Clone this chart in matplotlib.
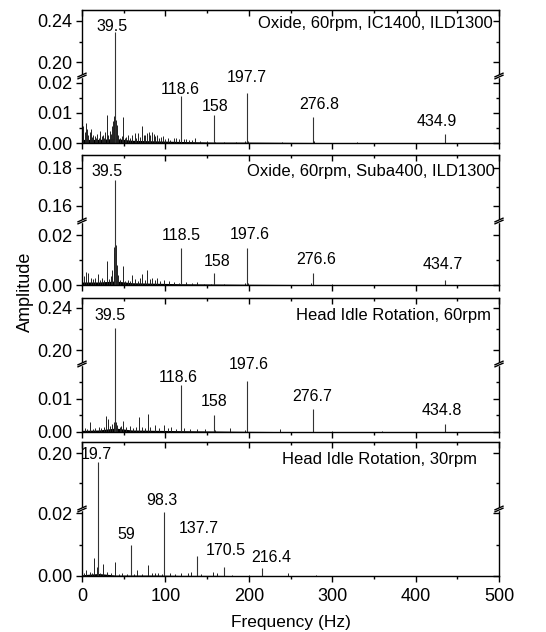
import numpy as np
import matplotlib.pyplot as plt

plt.rcParams['font.family'] = ['Liberation Sans', 'DejaVu Sans']
plt.rcParams['font.size'] = 12

titles = ['Oxide, 60rpm, IC1400, ILD1300', 'Oxide, 60rpm, Suba400, ILD1300',
          'Head Idle Rotation, 60rpm', 'Head Idle Rotation, 30rpm']

# labelled peaks
p1_peak_f = [39.5, 118.6, 158, 197.7, 276.8, 434.9]
p1_peak_a = [0.229, 0.0155, 0.0093, 0.0166, 0.0085, 0.0029]
p1_labels = ['39.5', '118.6', '158', '197.7', '276.8', '434.9']

p2_peak_f = [39.5, 118.5, 158, 197.6, 276.6, 434.7]
p2_peak_a = [0.1734, 0.0150, 0.0047, 0.0148, 0.0047, 0.0020]
p2_labels = ['39.5', '118.5', '158', '197.6', '276.6', '434.7']

p3_peak_f = [39.5, 118.6, 158, 197.6, 276.7, 434.8]
p3_peak_a = [0.2208, 0.0143, 0.0053, 0.0156, 0.0069, 0.0023]
p3_labels = ['39.5', '118.6', '158', '197.6', '276.7', '434.8']

p4_peak_f = [19.7, 59, 98.3, 137.7, 170.5, 216.4]
p4_peak_a = [0.1844, 0.0099, 0.0202, 0.0062, 0.0028, 0.0024]
p4_labels = ['19.7', '59', '98.3', '137.7', '170.5', '216.4']

# smaller spectral lines
p1_small_f = [1.5, 3.0, 4.4, 6.0, 7.5, 9.0, 10.5, 12.0, 13.5, 15.0, 16.8, 18.5, 20.0, 21.6,
              23.5, 25.0, 26.5, 28.0, 29.5, 31.5, 33.5, 35.0, 36.5, 37.5, 38.3, 38.9, 40.1,
              40.7, 41.4, 42.3, 43.5, 45.0, 47.5, 49.5, 51.0, 53.0, 55.5, 58.0, 60.5, 63.0,
              65.0, 67.5, 69.5, 72.0, 74.0, 76.0, 78.3, 80.0, 82.0, 84.0, 86.0, 88.0, 90.0,
              92.5, 95.0, 97.5, 100.0, 103.0, 106.0, 110.0, 113.0, 116.0, 122.0, 125.0,
              128.0, 132.0, 136.0, 142.0, 150.0, 160.0, 170.0, 185.0, 196.0, 199.0, 240.0,
              278.0, 330.0]
p1_small_a = [0.0058, 0.0035, 0.0068, 0.0045, 0.0025, 0.0038, 0.0048, 0.0020, 0.0028, 0.0022,
              0.0015, 0.0030, 0.0018, 0.0040, 0.0022, 0.0028, 0.0018, 0.0035, 0.0093, 0.0025,
              0.0040, 0.0030, 0.0055, 0.0072, 0.0089, 0.0085, 0.0088, 0.0075, 0.0060, 0.0045,
              0.0025, 0.0018, 0.0022, 0.0087, 0.0015, 0.0020, 0.0028, 0.0018, 0.0025, 0.0032,
              0.0018, 0.0033, 0.0020, 0.0055, 0.0028, 0.0025, 0.0032, 0.0038, 0.0028, 0.0035,
              0.0030, 0.0022, 0.0025, 0.0015, 0.0020, 0.0022, 0.0012, 0.0016, 0.0010, 0.0018,
              0.0015, 0.0013, 0.0014, 0.0012, 0.0010, 0.0011, 0.0015, 0.0006, 0.0005, 0.0004,
              0.0003, 0.0003, 0.0008, 0.0006, 0.0002, 0.0005, 0.0002]

p2_small_f = [2.0, 4.8, 7.5, 10.7, 13.0, 15.5, 18.7, 21.0, 24.0, 26.5, 29.8, 32.0, 34.5, 36.0,
              37.8, 38.6, 40.6, 41.5, 43.0, 45.5, 49.3, 52.0, 55.0, 57.5, 60.4, 64.0, 67.0,
              70.0, 72.4, 75.0, 78.3, 81.0, 84.3, 87.0, 90.3, 94.0, 98.2, 104.0, 110.0,
              116.0, 125.0, 132.0, 138.0, 146.0, 155.0, 170.0, 196.0, 199.0, 275.0, 300.0]
p2_small_a = [0.0035, 0.0052, 0.0047, 0.0030, 0.0025, 0.0028, 0.0043, 0.0020, 0.0030, 0.0022,
              0.0095, 0.0025, 0.0035, 0.0060, 0.0154, 0.0130, 0.0160, 0.0080, 0.0040, 0.0022,
              0.0076, 0.0015, 0.0022, 0.0018, 0.0042, 0.0025, 0.0018, 0.0030, 0.0043, 0.0020,
              0.0060, 0.0025, 0.0030, 0.0022, 0.0030, 0.0015, 0.0020, 0.0015, 0.0012, 0.0010,
              0.0012, 0.0009, 0.0012, 0.0006, 0.0005, 0.0004, 0.0010, 0.0008, 0.0007, 0.0003]

p3_small_f = [3.0, 6.5, 9.9, 13.0, 16.0, 19.9, 23.0, 26.0, 29.0, 31.0, 34.0, 36.5, 38.3, 40.5,
              42.5, 45.0, 47.0, 49.7, 53.0, 57.7, 61.0, 64.5, 68.8, 72.0, 75.0, 78.8, 82.0,
              87.5, 92.0, 98.7, 103.0, 107.0, 113.0, 122.0, 130.0, 138.0, 148.0, 160.0,
              177.0, 196.0, 237.0, 300.0, 360.0]
p3_small_a = [0.0012, 0.0010, 0.0029, 0.0010, 0.0012, 0.0015, 0.0012, 0.0014, 0.0048, 0.0040,
              0.0018, 0.0025, 0.0030, 0.0030, 0.0020, 0.0014, 0.0018, 0.0032, 0.0014, 0.0018,
              0.0012, 0.0015, 0.0044, 0.0015, 0.0012, 0.0056, 0.0015, 0.0020, 0.0012, 0.0020,
              0.0012, 0.0015, 0.0010, 0.0011, 0.0010, 0.0010, 0.0008, 0.0007, 0.0012, 0.0006,
              0.0008, 0.0003, 0.0003]

p4_small_f = [2.0, 5.1, 9.8, 12.0, 14.9, 17.7, 21.0, 24.8, 29.5, 34.6, 39.7, 44.0, 48.4,
              53.5, 62.0, 66.0, 72.0, 78.6, 83.8, 87.0, 91.6, 96.0, 105.0, 111.0, 119.0,
              127.0, 131.0, 143.0, 156.5, 161.6, 180.0, 200.0, 247.0, 280.0]
p4_small_a = [0.0008, 0.0018, 0.0012, 0.0008, 0.0056, 0.0030, 0.0010, 0.0037, 0.0012, 0.0008,
              0.0046, 0.0006, 0.0008, 0.0005, 0.0006, 0.0018, 0.0006, 0.0035, 0.0010, 0.0008,
              0.0010, 0.0007, 0.0008, 0.0007, 0.0008, 0.0009, 0.0012, 0.0007, 0.0012, 0.0008,
              0.0004, 0.0004, 0.0009, 0.0003]

# noise floor envelope
p1_floor_f = [0, 20, 40, 60, 90, 120, 160, 200, 260, 350, 500]
p1_floor_a = [0.0012, 0.0012, 0.0015, 0.0009, 0.0007, 0.0005, 0.0003, 0.0003, 0.0002, 0.0001, 0.0001]
p2_floor_f = [0, 20, 40, 60, 90, 120, 160, 200, 260, 350, 500]
p2_floor_a = [0.0012, 0.0012, 0.0016, 0.0009, 0.0007, 0.0005, 0.0004, 0.0003, 0.0002, 0.0001, 0.0001]
p3_floor_f = [0, 20, 40, 60, 90, 120, 160, 200, 260, 350, 500]
p3_floor_a = [0.0005, 0.0006, 0.0012, 0.0006, 0.0005, 0.0004, 0.0003, 0.0002, 0.0001, 0.0001, 0.0001]
p4_floor_f = [0, 20, 40, 60, 90, 120, 160, 200, 260, 350, 500]
p4_floor_a = [0.0004, 0.0008, 0.0003, 0.0003, 0.0003, 0.0002, 0.0002, 0.0001, 0.0001, 0.0001, 0.0001]

# y tick values
p1_major = [0, 0.01, 0.02, 0.20, 0.24]
p1_minor = [0.005, 0.015, 0.22]
p2_major = [0, 0.02, 0.16, 0.18]
p2_minor = [0.01, 0.17]
p3_major = [0, 0.01, 0.20, 0.24]
p3_minor = [0.005, 0.015, 0.22]
p4_major = [0, 0.02, 0.20]
p4_minor = [0.01, 0.15]

W, H = 546, 632
fig = plt.figure(figsize=(W / 100, H / 100), dpi=100)

# panel layout: (top px, bottom px, break px, lower max, upper min, upper max)
layout = [
    (10, 143, 76, 0.0223, 0.1867, 0.2505),
    (155, 285, 221, 0.0256, 0.152, 0.1868),
    (298, 432, 364, 0.0206, 0.1867, 0.2495),
    (442, 576, 509, 0.0213, 0.107, 0.2183),
]
# label positions (x in Hz, y in axes fraction)
label_pos = [
    [(35.6, 0.874), (117.5, 0.406), (159.5, 0.278), (197.8, 0.496), (284, 0.293), (425.7, 0.158)],
    [(30.4, 0.872), (119.5, 0.377), (161.5, 0.179), (200.6, 0.385), (280.6, 0.198), (432, 0.154)],
    [(33.6, 0.866), (115.5, 0.408), (158.6, 0.226), (199.4, 0.507), (276, 0.263), (431, 0.157)],
    [(17.6, 0.903), (53.6, 0.306), (95.5, 0.567), (139.5, 0.351), (172.7, 0.189), (227.5, 0.139)],
]
title_pos = [(493, 0.902), (495, 0.872), (491, 0.866), (477, 0.871)]

panels = [
    (p1_peak_f, p1_peak_a, p1_labels, p1_small_f, p1_small_a, p1_floor_f, p1_floor_a, p1_major, p1_minor),
    (p2_peak_f, p2_peak_a, p2_labels, p2_small_f, p2_small_a, p2_floor_f, p2_floor_a, p2_major, p2_minor),
    (p3_peak_f, p3_peak_a, p3_labels, p3_small_f, p3_small_a, p3_floor_f, p3_floor_a, p3_major, p3_minor),
    (p4_peak_f, p4_peak_a, p4_labels, p4_small_f, p4_small_a, p4_floor_f, p4_floor_a, p4_major, p4_minor),
]


def make_scale(lo_top, hi_bot, hi_top, f):
    def fwd(y):
        y = np.asarray(y, dtype=float)
        low = y / lo_top * f
        high = f + (y - hi_bot) / (hi_top - hi_bot) * (1 - f)
        return np.where(y <= lo_top, low, np.where(y >= hi_bot, high, f))

    def inv(u):
        u = np.asarray(u, dtype=float)
        return np.where(u <= f, u / f * lo_top, hi_bot + (u - f) / (1 - f) * (hi_top - hi_bot))
    return fwd, inv


x0_px, x1_px = 82, 499
for i, (pf, pa, labs, sf, sa, ff, fa, ymaj, ymin) in enumerate(panels):
    top, bot, brk, lo_top, hi_bot, hi_top = layout[i]
    hpx = bot - top
    f = (bot - brk) / hpx
    ax = fig.add_axes([x0_px / W, (H - bot) / H, (x1_px - x0_px) / W, hpx / H])
    fwd, inv = make_scale(lo_top, hi_bot, hi_top, f)
    ax.set_yscale('function', functions=(fwd, inv))
    ax.set_xlim(0, 500)
    ax.set_ylim(0, hi_top)

    ax.fill_between(ff, 0, fa, color='black', lw=0)
    ax.vlines(sf, 0, sa, color='#222222', lw=0.7)
    ax.vlines(pf, 0, pa, color='#333333', lw=0.8)

    for lab, (lx, ly) in zip(labs, label_pos[i]):
        ax.text(lx, ly, lab, transform=ax.get_xaxis_transform(), ha='center', va='center', fontsize=11.5)
    tx, ty = title_pos[i]
    ax.text((tx - x0_px) / (x1_px - x0_px), ty, titles[i], transform=ax.transAxes,
            ha='right', va='center', fontsize=12)

    ax.set_yticks(ymaj)
    ax.set_yticklabels(['%.2f' % v for v in ymaj])
    ax.set_yticks(ymin, minor=True)
    ax.set_xticks(np.arange(0, 501, 100))
    ax.set_xticks(np.arange(50, 500, 100), minor=True)
    ax.tick_params(which='major', direction='out', length=4.5, width=1, pad=2.5, labelsize=13)
    ax.tick_params(which='minor', direction='out', length=2.5, width=1)
    if i < 3:
        ax.tick_params(axis='x', labelbottom=False)
    else:
        ax.tick_params(axis='x', pad=4)
    for s in ax.spines.values():
        s.set_linewidth(1.0)

    # right axis ticks pointing in
    axr = ax.twinx()
    axr.set_yscale('function', functions=(fwd, inv))
    axr.set_ylim(0, hi_top)
    axr.set_yticks(ymaj)
    axr.set_yticks(ymin, minor=True)
    axr.tick_params(which='both', direction='in', labelright=False, width=1)
    axr.tick_params(which='major', length=4.5)
    axr.tick_params(which='minor', length=2.5)
    for s in axr.spines.values():
        s.set_visible(False)

    # top ticks pointing in
    axt = ax.secondary_xaxis('top')
    axt.set_xticks(np.arange(0, 501, 100))
    axt.set_xticks(np.arange(50, 500, 100), minor=True)
    axt.tick_params(which='both', direction='in', labeltop=False, width=1)
    axt.tick_params(which='major', length=4.5)
    axt.tick_params(which='minor', length=2.5)

    # axis break marks
    dx = 4 / (x1_px - x0_px)
    dy = 1.8 / hpx
    g = 2.0 / hpx
    for xs in (0, 1):
        ax.add_patch(plt.Rectangle((xs - dx * 0.6, f - g / 2), dx * 1.2, g, transform=ax.transAxes,
                                   color='white', clip_on=False, zorder=5))
        for s in (-g / 2, g / 2):
            ax.plot([xs - dx, xs + dx], [f + s - dy, f + s + dy], transform=ax.transAxes,
                    color='black', lw=1, clip_on=False, zorder=6)

fig.text(25 / W, (H - 292) / H, 'Amplitude', rotation=90, ha='center', va='center', fontsize=13)
fig.text((x0_px + x1_px) / 2 / W, (H - 623) / H, 'Frequency (Hz)', ha='center', va='center', fontsize=12.5)

fig.savefig('out.png', dpi=100)
